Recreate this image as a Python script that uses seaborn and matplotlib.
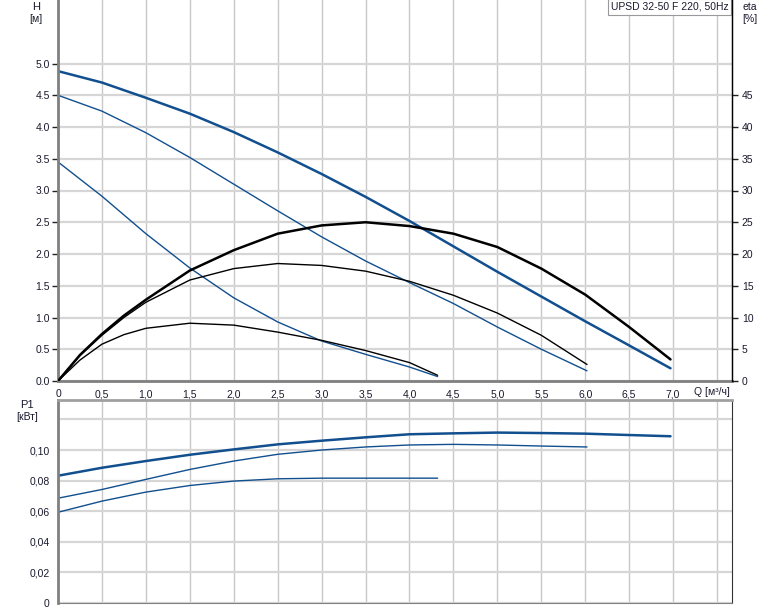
import numpy as np
import pandas as pd
import matplotlib
matplotlib.use("Agg")
import matplotlib.pyplot as plt
import seaborn as sns

# flow points per speed curve (head and power)
q3 = [0, 0.5, 1.0, 1.5, 2.0, 2.5, 3.0, 3.5, 4.0, 4.5, 5.0, 5.5, 6.0, 6.5, 6.97]
q2 = [0, 0.5, 1.0, 1.5, 2.0, 2.5, 3.0, 3.5, 4.0, 4.5, 5.0, 5.5, 6.02]
q1 = [0, 0.5, 1.0, 1.5, 2.0, 2.5, 3.0, 3.5, 4.0, 4.32]

# head [m]
h3 = [4.88, 4.70, 4.46, 4.21, 3.92, 3.60, 3.26, 2.90, 2.52, 2.12, 1.72, 1.33, 0.94, 0.56, 0.20]
h2 = [4.50, 4.25, 3.91, 3.52, 3.10, 2.68, 2.27, 1.89, 1.55, 1.22, 0.85, 0.50, 0.16]
h1 = [3.45, 2.91, 2.32, 1.78, 1.31, 0.93, 0.63, 0.42, 0.22, 0.07]

# flow points for efficiency curves (denser near origin)
qe3 = [0, 0.25, 0.5, 0.75, 1.0, 1.5, 2.0, 2.5, 3.0, 3.5, 4.0, 4.5, 5.0, 5.5, 6.0, 6.5, 6.97]
qe2 = [0, 0.25, 0.5, 0.75, 1.0, 1.5, 2.0, 2.5, 3.0, 3.5, 4.0, 4.5, 5.0, 5.5, 6.02]
qe1 = [0, 0.25, 0.5, 0.75, 1.0, 1.5, 2.0, 2.5, 3.0, 3.5, 4.0, 4.32]

# efficiency [%]
eta3 = [0, 4.1, 7.4, 10.3, 12.8, 17.4, 20.6, 23.2, 24.5, 25.0, 24.4, 23.2, 21.1, 17.7, 13.6, 8.5, 3.4]
eta2 = [0, 4.0, 7.2, 10.0, 12.4, 15.9, 17.7, 18.5, 18.2, 17.3, 15.7, 13.5, 10.7, 7.2, 2.6]
eta1 = [0, 3.3, 5.8, 7.3, 8.3, 9.1, 8.8, 7.7, 6.4, 4.8, 2.9, 0.9]

# power P1 [kW]
p3 = [0.0832, 0.0884, 0.0928, 0.0969, 0.1004, 0.1037, 0.1061, 0.1083, 0.1103, 0.1109, 0.1114, 0.1111, 0.1107, 0.1098, 0.1090]
p2 = [0.0685, 0.0742, 0.0808, 0.0873, 0.0928, 0.0972, 0.1000, 0.1020, 0.1033, 0.1037, 0.1033, 0.1026, 0.1020]
p1 = [0.0593, 0.0666, 0.0725, 0.0768, 0.0797, 0.0812, 0.0816, 0.0816, 0.0816, 0.0816]

x_ticks = [0, 0.5, 1.0, 1.5, 2.0, 2.5, 3.0, 3.5, 4.0, 4.5, 5.0, 5.5, 6.0, 6.5, 7.0, 7.5]
x_labels = ["0", "0,5", "1,0", "1,5", "2,0", "2,5", "3,0", "3,5", "4,0", "4,5", "5,0", "5,5", "6,0", "6,5", "7,0", ""]
h_ticks = [0.0, 0.5, 1.0, 1.5, 2.0, 2.5, 3.0, 3.5, 4.0, 4.5, 5.0]
h_labels = ["0.0", "0.5", "1.0", "1.5", "2.0", "2.5", "3.0", "3.5", "4.0", "4.5", "5.0"]
eta_ticks = [0, 5, 10, 15, 20, 25, 30, 35, 40, 45]
p_ticks = [0, 0.02, 0.04, 0.06, 0.08, 0.10, 0.12]
p_labels = ["0", "0,02", "0,04", "0,06", "0,08", "0,10", ""]

sns.set_style("white")
plt.rcParams['font.family'] = ['Liberation Sans', 'DejaVu Sans']
plt.rcParams['font.size'] = 7.5

blue = "#114f8e"
txt = "#1a1a2e"
W, H = 774, 611
fig = plt.figure(figsize=(W / 100, H / 100), dpi=100)

def frac(x0, y0, x1, y1):
    return [x0 / W, 1 - y1 / H, (x1 - x0) / W, (y1 - y0) / H]

ax = fig.add_axes(frac(58, 0, 732, 381))
ax2 = ax.twinx()
bx = fig.add_axes(frac(58, 400, 732, 603))

xmax = 7.67
for a in (ax, bx):
    a.set_xlim(0, xmax)
    a.set_xticks(x_ticks)
    a.grid(True, axis="x", color="#c8c8c8", lw=1)
    a.grid(True, axis="y", color="#d6d6d6", lw=1.6)
    a.set_axisbelow(True)
    a.tick_params(axis="both", direction="out", length=4, width=1, colors="#222222",
                  labelcolor=txt, labelsize=7.5, pad=2)

# head curves
for q, h, lw in [(q3, h3, 1.8), (q2, h2, 1.0), (q1, h1, 1.0)]:
    sns.lineplot(x=q, y=h, ax=ax, color=blue, lw=lw, sort=False)
ax.set_ylim(0, 6.0)
ax.set_yticks(h_ticks)
ax.set_yticklabels(h_labels)
ax.set_xticklabels(x_labels)
ax.set_xlabel("")
ax.set_ylabel("")

# efficiency curves
for q, e, lw in [(qe3, eta3, 1.8), (qe2, eta2, 1.0), (qe1, eta1, 1.0)]:
    sns.lineplot(x=q, y=e, ax=ax2, color="black", lw=lw, sort=False)
ax2.set_ylim(0, 60)
ax2.set_yticks(eta_ticks)
ax2.tick_params(axis="y", direction="out", length=4, width=1, colors="#222222",
                labelcolor=txt, labelsize=7.5, pad=3)
ax2.set_ylabel("")
ax2.grid(False)

for sp in ("left", "bottom"):
    ax.spines[sp].set_color("#808080")
    ax.spines[sp].set_linewidth(2)
ax.spines["top"].set_visible(False)
ax2.spines["top"].set_visible(False)
ax2.spines["right"].set_color("black")
ax2.spines["right"].set_linewidth(1)
ax2.spines["left"].set_visible(False)
ax2.spines["bottom"].set_visible(False)

# power curves
for q, p, lw in [(q3, p3, 1.8), (q2, p2, 1.0), (q1, p1, 1.0)]:
    sns.lineplot(x=q, y=p, ax=bx, color=blue, lw=lw, sort=False)
bx.set_ylim(0, 0.1327)
bx.set_yticks(p_ticks)
bx.set_yticklabels(p_labels)
bx.set_xticklabels([])
bx.tick_params(axis="x", length=0)
bx.set_xlabel("")
bx.set_ylabel("")
bx.spines["left"].set_color("#808080")
bx.spines["left"].set_linewidth(2)
bx.spines["top"].set_color("#a0a0a0")
bx.spines["top"].set_linewidth(2)
bx.spines["right"].set_color("#333333")
bx.spines["bottom"].set_color("#808080")

# axis titles
fig.text(36 / W, 1 - 7 / H, "H", ha="center", va="center", color=txt, fontsize=8)
fig.text(36 / W, 1 - 19 / H, "[м]", ha="center", va="center", color=txt, fontsize=7.5)
fig.text(750 / W, 1 - 7 / H, "eta", ha="center", va="center", color=txt, fontsize=7.5)
fig.text(750 / W, 1 - 19 / H, "[%]", ha="center", va="center", color=txt, fontsize=7.5)
fig.text(27 / W, 1 - 405 / H, "P1", ha="center", va="center", color=txt, fontsize=8)
fig.text(27 / W, 1 - 417 / H, "[кВт]", ha="center", va="center", color=txt, fontsize=7.5)
fig.text(712 / W, 1 - 392 / H, "Q [м³/ч]", ha="center", va="center", color=txt, fontsize=7.5,
         bbox=dict(facecolor="white", edgecolor="none", pad=0.5))

# model box
ax.text(0.995, 0.995, "UPSD 32-50 F 220, 50Hz", transform=ax.transAxes, ha="right", va="top",
        fontsize=7.5, color=txt,
        bbox=dict(facecolor="white", edgecolor="#999999", boxstyle="square,pad=0.25", lw=0.8))

fig.savefig("out.png", dpi=100)
